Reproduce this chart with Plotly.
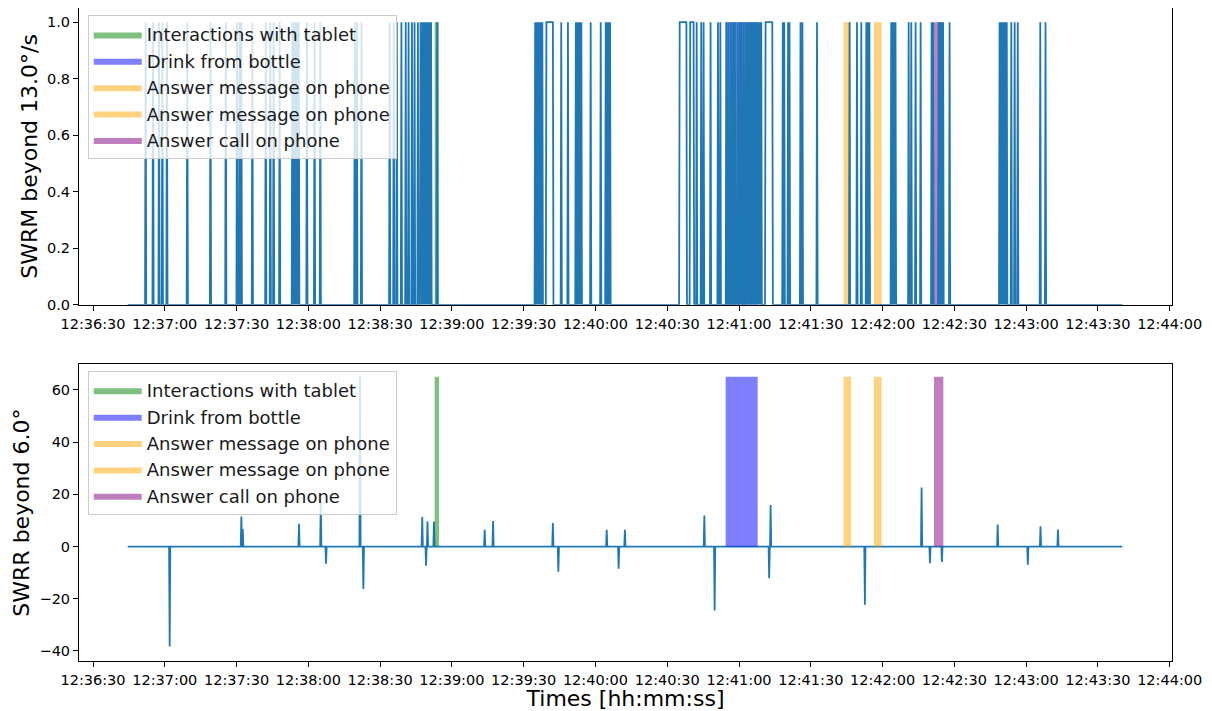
import pandas as pd
import plotly.graph_objects as go
from plotly.subplots import make_subplots

# ---------------- data (times in seconds after 12:36:30) ----------------
REF_DAY = "2023-01-01 "
t0_label = "12:36:30"
signal_start = 14.5
signal_end = 430.2

# SWRM: single-sample pulses to 1.0
swrm_spikes = [
    22.0, 25.1, 27.6, 29.0, 30.9, 39.4, 49.1, 55.5, 60.2, 61.3, 62.0, 66.6,
    72.2, 74.1, 75.5, 78.0, 83.3, 84.0, 84.7, 85.4, 86.0, 89.4, 92.6, 95.0,
    109.4, 110.3, 112.2, 124.0, 125.7, 127.0, 128.9, 130.7, 131.9, 133.3,
    134.4, 135.8, 136.9, 137.7, 138.3, 138.9, 139.5, 140.1, 140.7, 141.3,
    143.8,
    184.8, 185.4, 186.0, 186.6, 187.2, 187.8, 195.7, 198.5, 201.8, 202.4,
    203.0, 203.6, 204.1, 208.0, 212.2, 214.3, 214.9, 215.5, 216.1,
    252.3, 254.2, 255.2, 258.1, 261.2, 262.2,
    264.7, 265.6, 266.6, 267.5, 268.3, 269.4, 270.3, 271.1, 272.0, 272.9,
    273.7, 274.5, 275.2, 275.9, 276.6, 277.3, 278.0, 278.7, 279.3,
    288.3, 288.9, 290.5, 291.1, 295.7, 296.5, 302.6, 316.2, 319.3, 321.1,
    323.2, 323.8, 324.5, 333.6, 334.2, 334.8, 335.4, 340.9, 342.0, 343.8,
    345.9, 350.5, 351.1, 353.4, 354.0, 354.6, 355.3, 358.0,
    378.9, 379.5, 380.1, 380.7, 381.3, 381.9, 383.8, 385.2, 386.5, 395.9, 398.1,
]
# SWRM: sustained high intervals
swrm_hold_start = [189.5, 245.2, 249.6, 281.1]
swrm_hold_end = [192.2, 248.0, 251.0, 283.9]

# SWRR spikes
swrr_times = [
    32.05, 62.0, 62.6, 86.1, 95.2, 97.4, 111.6, 113.0, 137.6, 139.2, 139.8,
    142.5, 163.7, 167.2, 192.2, 194.5, 214.7, 219.7, 222.3, 255.5, 259.8,
    282.6, 283.2, 322.6, 346.3, 349.8, 354.8, 378.1, 390.7, 396.0, 403.3,
]
swrr_values = [
    -38.3, 11.5, 6.7, 8.7, 18.0, -6.6, 65.0, -16.3, 11.3, -7.3, 9.6,
    9.6, 6.4, 9.8, 9.0, -9.6, 6.4, -8.5, 6.4, 11.9, -24.5,
    -12.1, 15.9, -22.3, 22.6, -6.4, -5.9, 8.4, -7.0, 7.8, 6.5,
]

# Activities
activity_labels = [
    "Interactions with tablet",
    "Drink from bottle",
    "Answer message on phone",
    "Answer message on phone",
    "Answer call on phone",
]
activity_start = [142.8, 264.4, 313.7, 326.4, 351.5]
activity_end = [144.6, 277.8, 316.8, 329.6, 355.4]

tick_labels = ["12:36:30", "12:37:00", "12:37:30", "12:38:00", "12:38:30",
               "12:39:00", "12:39:30", "12:40:00", "12:40:30", "12:41:00",
               "12:41:30", "12:42:00", "12:42:30", "12:43:00", "12:43:30",
               "12:44:00"]

# ---------------- styles ----------------
activity_colors = ["rgba(0,128,0,0.5)", "rgba(0,0,255,0.5)",
                   "rgba(255,165,0,0.5)", "rgba(255,165,0,0.5)",
                   "rgba(128,0,128,0.5)"]
LINE_COLOR = "#1f77b4"
HALF = 0.25

T0 = pd.Timestamp(REF_DAY + t0_label)


def ts(seconds):
    return [T0 + pd.to_timedelta(s, unit="s") for s in seconds]


def build_line(events):
    xs, ys = [signal_start], [0.0]
    for a, b, v in sorted(events):
        xs += [a - HALF, a, b, b + HALF]
        ys += [0.0, v, v, 0.0]
    xs.append(signal_end)
    ys.append(0.0)
    return ts(xs), ys


swrm_events = [(s, s, 1.0) for s in swrm_spikes] + \
    [(a, b, 1.0) for a, b in zip(swrm_hold_start, swrm_hold_end)]
swrr_events = [(t, t, v) for t, v in zip(swrr_times, swrr_values)]

fig = make_subplots(rows=2, cols=1)

x1, y1 = build_line(swrm_events)
x2, y2 = build_line(swrr_events)
top1 = max(y1)
top2 = max(y2)


def add_spans(row, top, leg):
    for lab, a, b, col in zip(activity_labels, activity_start, activity_end, activity_colors):
        xa, xb = ts([a, b])
        fig.add_trace(go.Scatter(
            x=[xa, xa, xb, xb, xa], y=[0, top, top, 0, 0],
            mode="lines", fill="toself", fillcolor=col,
            line=dict(width=0, color=col), name=lab, legend=leg,
            hoverinfo="skip"), row=row, col=1)


# top: spans beneath the line
add_spans(1, top1, "legend")
fig.add_trace(go.Scatter(x=x1, y=y1, mode="lines", line=dict(color=LINE_COLOR, width=1.8),
                         showlegend=False), row=1, col=1)
# bottom: line then spans
fig.add_trace(go.Scatter(x=x2, y=y2, mode="lines", line=dict(color=LINE_COLOR, width=1.8),
                         showlegend=False), row=2, col=1)
add_spans(2, top2, "legend2")

tickvals = [pd.Timestamp(REF_DAY + lab) for lab in tick_labels]
x_range = [T0 - pd.to_timedelta(5.85, unit="s"), T0 + pd.to_timedelta(450.96, unit="s")]

axis_common = dict(showline=True, mirror=True, linecolor="black", linewidth=1,
                   ticks="outside", ticklen=5, tickcolor="black", showgrid=False,
                   zeroline=False, tickfont=dict(size=14.5, color="black"))

fig.update_xaxes(type="date", range=x_range, tickvals=tickvals, ticktext=tick_labels,
                 tickangle=0, ticklabelstandoff=1, **axis_common)
fig.update_yaxes(**axis_common)

legend_common = dict(xanchor="left", yanchor="top",
                     bgcolor="rgba(255,255,255,0.8)", bordercolor="#cccccc", borderwidth=1,
                     font=dict(size=18, color="#1a1a1a"), itemwidth=48)

fig.update_layout(
    width=1204, height=703,
    margin=dict(l=71.3, r=39.7, t=0.3, b=50),
    plot_bgcolor="white", paper_bgcolor="white",
    font=dict(family="DejaVu Sans", color="black"),
    xaxis=dict(domain=[0, 1]),
    yaxis=dict(domain=[0.5454, 1.0], range=[0, 1.05],
               tickvals=[0, 0.2, 0.4, 0.6, 0.8, 1.0], tickformat=".1f",
               title=dict(text="SWRM beyond 13.0°/s", font=dict(size=22), standoff=3)),
    xaxis2=dict(domain=[0, 1],
                title=dict(text="Times [hh:mm:ss]", font=dict(size=22), standoff=6)),
    yaxis2=dict(domain=[0.0, 0.4546], range=[-43.83, 69.85],
                tickvals=[-40, -20, 0, 20, 40, 60],
                title=dict(text="SWRR beyond 6.0°", font=dict(size=22), standoff=3)),
    legend=dict(x=0.008, y=0.989, **legend_common),
    legend2=dict(x=0.008, y=0.444, **legend_common),
)

fig.write_html("out.html")
